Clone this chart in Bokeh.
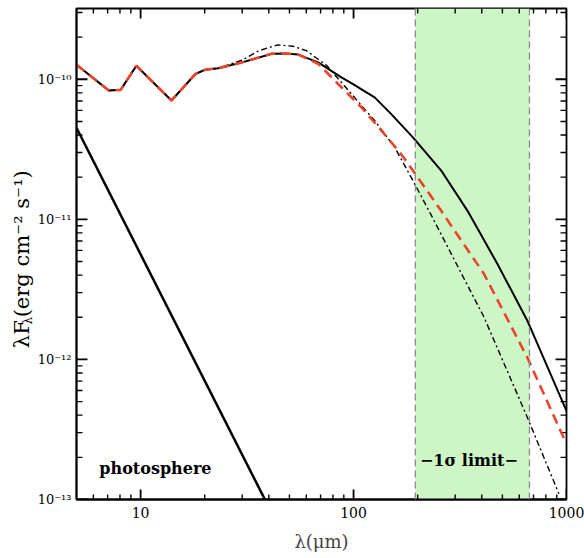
import math
from bokeh.plotting import figure
from bokeh.layouts import row
from bokeh.models import FixedTicker, CustomJSTickFormatter, BoxAnnotation, Span
from bokeh.core.properties import value
from bokeh.embed import file_html
from bokeh.resources import INLINE

# ---------------- data ----------------
sed_x_total = [5, 7.1, 8.06, 9.55, 13.96, 18.1, 20.1, 23.2, 30, 41.3, 47.6, 55, 68.2,
               87.7, 97.7, 125.6, 150, 190, 258, 343, 474, 655, 1000]
sed_y_total = [1.27e-10, 8.3e-11, 8.4e-11, 1.25e-10, 7.05e-11, 1.09e-10, 1.17e-10, 1.2e-10,
               1.32e-10, 1.52e-10, 1.53e-10, 1.5e-10, 1.32e-10,
               1.03e-10, 9.4e-11, 7.43e-11, 5.66e-11, 3.85e-11, 2.23e-11, 1.15e-11, 4.8e-12,
               1.89e-12, 4.3e-13]

sed_x_red = [5, 7.1, 8.06, 9.55, 13.96, 18.1, 20.1, 23.2, 30, 41.3, 47.6, 55, 68.2,
             87.7, 108.8, 135, 167, 190, 258, 410, 655, 1000]
sed_y_red = [1.27e-10, 8.3e-11, 8.4e-11, 1.25e-10, 7.05e-11, 1.09e-10, 1.17e-10, 1.2e-10,
             1.32e-10, 1.52e-10, 1.53e-10, 1.5e-10, 1.29e-10,
             8.77e-11, 6.31e-11, 4.31e-11, 2.93e-11, 2.23e-11, 1.15e-11, 4.07e-12,
             1.03e-12, 2.49e-13]

sed_x_dashdot = [5, 7.1, 8.06, 9.55, 13.96, 18.1, 20.1, 23.2, 30, 36, 44, 52, 60, 75,
                 97.7, 125.6, 156, 190, 231, 410, 655, 921]
sed_y_dashdot = [1.27e-10, 8.3e-11, 8.4e-11, 1.25e-10, 7.05e-11, 1.09e-10, 1.17e-10, 1.2e-10,
                 1.37e-10, 1.6e-10, 1.76e-10, 1.72e-10, 1.6e-10, 1.25e-10,
                 7.86e-11, 5.07e-11, 3.27e-11, 1.89e-11, 1.08e-11, 2.0e-12,
                 3.85e-13, 1.1e-13]

photo_x = [5, 40]
photo_y = [4.5e-11, 8.8e-14]

band_limits = [195, 670]          # 1-sigma limit region (micron)

x_range = (5, 1000)
y_range = (1e-13, 3.2e-10)

x_ticks = [10, 100, 1000]
x_tick_labels = ["10", "100", "1000"]
x_minor = [6, 7, 8, 9, 20, 30, 40, 50, 60, 70, 80, 90, 200, 300, 400, 500, 600, 700, 800, 900]
y_ticks = [1e-13, 1e-12, 1e-11, 1e-10]
y_tick_labels = ["10\u207b\u00b9\u00b3", "10\u207b\u00b9\u00b2", "10\u207b\u00b9\u00b9", "10\u207b\u00b9\u2070"]
y_minor = [m * d for d in [1e-13, 1e-12, 1e-11, 1e-10] for m in range(2, 10)]

annot_text = ["photosphere", "\u22121\u03c3 limit\u2212"]
annot_x = [6.4, 348]
annot_y = [1.66e-13, 1.9e-13]

x_label = "\u03bb(\u03bcm)"
y_label_parts = ["\u03bbF", "\u03bb", "(erg cm\u207b\u00b2 s\u207b\u00b9)"]

FONT = "DejaVu Serif"
W, H = 584, 558
YL_W = 34
BORDER = dict(left=40, right=18, top=8, bottom=59)

# ---------------- main plot ----------------
p = figure(width=W - YL_W, height=H, x_axis_type="log", y_axis_type="log",
           x_range=x_range, y_range=y_range,
           output_backend="svg", toolbar_location=None,
           min_border_left=BORDER["left"], min_border_right=BORDER["right"],
           min_border_top=BORDER["top"], min_border_bottom=BORDER["bottom"])
p.xgrid.visible = False
p.ygrid.visible = False
p.outline_line_color = "black"
p.outline_line_width = 1.8
p.background_fill_color = "white"
p.border_fill_color = "white"

fmt_code = """
for (let i = 0; i < tvals.length; i++) {
  if (Math.abs(Math.log10(tvals[i]) - Math.log10(tick)) < 1e-6) return tlabels[i];
}
return '';
"""
p.xaxis.ticker = FixedTicker(ticks=x_ticks, minor_ticks=x_minor)
p.xaxis.formatter = CustomJSTickFormatter(args=dict(tvals=x_ticks, tlabels=x_tick_labels), code=fmt_code)
p.yaxis.ticker = FixedTicker(ticks=y_ticks, minor_ticks=y_minor)
p.yaxis.formatter = CustomJSTickFormatter(args=dict(tvals=y_ticks, tlabels=y_tick_labels), code=fmt_code)
for ax in p.xaxis + p.yaxis:
    ax.axis_line_color = "black"
    ax.axis_line_width = 1.8
    ax.major_tick_in = 0
    ax.major_tick_out = 0
    ax.minor_tick_in = 0
    ax.minor_tick_out = 0
    ax.major_label_text_font = FONT
    ax.major_label_text_color = "black"
p.xaxis.major_label_text_font_size = "14px"
p.yaxis.major_label_text_font_size = "13px"
p.xaxis.major_label_standoff = 7
p.yaxis.major_label_standoff = 5
p.xaxis.axis_label = x_label
p.xaxis.axis_label_text_font = FONT
p.xaxis.axis_label_text_font_size = "18px"
p.xaxis.axis_label_text_font_style = "normal"
p.xaxis.axis_label_standoff = 10

# 1-sigma band
p.add_layout(BoxAnnotation(left=band_limits[0], right=band_limits[1], fill_color="#cdf5c5",
                           fill_alpha=1.0, line_color=None, level="underlay"))
for loc in band_limits:
    p.add_layout(Span(location=loc, dimension="height", line_color="#8a8a8a",
                      line_width=1.3, line_dash="7 4"))

# inward tick marks on all four sides, drawn as thin filled bars (sizes in pixels)
frame_w = W - YL_W - BORDER["left"] - BORDER["right"]
frame_h = H - BORDER["top"] - BORDER["bottom"]
ppd_x = frame_w / math.log10(x_range[1] / x_range[0])
ppd_y = frame_h / math.log10(y_range[1] / y_range[0])

def xticks(xs, length, width):
    f = 10 ** ((length / 2) / ppd_y)
    n = len(xs)
    for yc in (y_range[0] * f, y_range[1] / f):
        p.rect(x=xs, y=[yc] * n, width=width, height=length,
               width_units="screen", height_units="screen",
               fill_color="black", line_color=None)

def yticks(ys, length, width):
    f = 10 ** ((length / 2) / ppd_x)
    n = len(ys)
    for xc in (x_range[0] * f, x_range[1] / f):
        p.rect(x=[xc] * n, y=ys, width=length, height=width,
               width_units="screen", height_units="screen",
               fill_color="black", line_color=None)

xticks(x_ticks, 10, 1.8)
xticks(x_minor, 5, 1.4)
yticks(y_ticks, 11, 1.8)
yticks(y_minor, 6, 1.4)

# curves
p.line(sed_x_total, sed_y_total, line_color="black", line_width=2)
p.line(sed_x_dashdot, sed_y_dashdot, line_color="black", line_width=1.4, line_dash="6 3 2 3")
p.line(sed_x_red, sed_y_red, line_color="#e8452c", line_width=2.6, line_dash="10 6")
p.line(photo_x, photo_y, line_color="black", line_width=2.5)

# annotations
p.text(x=[annot_x[0]], y=[annot_y[0]], text=[annot_text[0]], text_font=value(FONT),
       text_font_size="16px", text_font_style="bold", text_baseline="middle",
       text_align="left", text_color="black")
p.text(x=[annot_x[1]], y=[annot_y[1]], text=[annot_text[1]], text_font=value(FONT),
       text_font_size="16px", text_font_style="bold", text_baseline="middle",
       text_align="center", text_color="black")

# ---------------- y-axis title (separate narrow panel, pixel coordinates) ----------------
yl = figure(width=YL_W, height=H, x_range=(0, YL_W), y_range=(0, H),
            output_backend="svg", toolbar_location=None,
            min_border=0, min_border_left=0, min_border_right=0,
            min_border_top=0, min_border_bottom=0)
yl.axis.visible = False
yl.xgrid.visible = False
yl.ygrid.visible = False
yl.outline_line_color = None
yl.background_fill_color = "white"
yl.border_fill_color = "white"
base_y = 172
yl.text(x=[21], y=[base_y], text=[y_label_parts[0]], angle=math.pi / 2,
        text_font=value(FONT), text_font_size="21px", text_align="left",
        text_baseline="middle", text_color="black")
yl.text(x=[27], y=[base_y + 27], text=[y_label_parts[1]], angle=math.pi / 2,
        text_font=value(FONT), text_font_size="12px", text_align="left",
        text_baseline="middle", text_color="black")
yl.text(x=[21], y=[base_y + 35], text=[y_label_parts[2]], angle=math.pi / 2,
        text_font=value(FONT), text_font_size="21px", text_align="left",
        text_baseline="middle", text_color="black")

layout = row(yl, p, spacing=0)
open("out.html", "w").write(file_html(layout, INLINE))
